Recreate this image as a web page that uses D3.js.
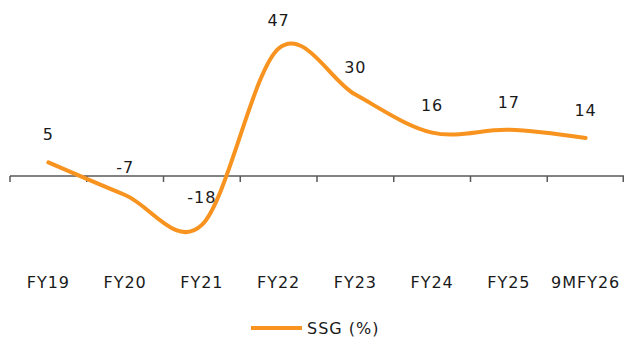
<!DOCTYPE html>
<html>
<head>
<meta charset="utf-8">
<script src="https://cdn.jsdelivr.net/npm/d3@7"></script>
<style>
  body { margin: 0; background: #fff; }
  text { font-family: "DejaVu Sans", Verdana, sans-serif; fill: #1a1a1a; letter-spacing: 1px; }
</style>
</head>
<body>
<div id="chart"></div>
<script>
// data
const categories = ["FY19", "FY20", "FY21", "FY22", "FY23", "FY24", "FY25", "9MFY26"]
const ssg = [5, -7, -18, 47, 30, 16, 17, 14]
const seriesName = "SSG (%)"

const dims = {
    width: 624,
    height: 342,
    left: 10,
    right: 624,
}

const xScale = d3.scaleBand()
    .domain(categories)
    .range([dims.left, dims.right])

const yScale = d3.scaleLinear()
    .domain([-20, 50])
    .range([230.3, 40.3])

const xCenter = d => xScale(d) + xScale.bandwidth() / 2

const svg = d3.select("#chart")
    .append("svg")
    .attr("width", dims.width)
    .attr("height", dims.height)

// axis line + ticks
const axis = svg.append("g")
axis.append("line")
    .attr("x1", dims.left).attr("x2", dims.right)
    .attr("y1", yScale(0)).attr("y2", yScale(0))
    .attr("stroke", "#595959").attr("stroke-width", 1.5)

const tickXs = categories.map(c => xScale(c)).concat([dims.right - 0.75])
axis.selectAll(".tick")
    .data(tickXs)
    .join("line")
    .attr("class", "tick")
    .attr("x1", d => d).attr("x2", d => d)
    .attr("y1", yScale(0)).attr("y2", yScale(0) + 6)
    .attr("stroke", "#595959").attr("stroke-width", 1.5)

// category labels
svg.append("g").selectAll("text")
    .data(categories)
    .join("text")
    .attr("x", d => xCenter(d))
    .attr("y", 288)
    .attr("text-anchor", "middle")
    .attr("font-size", 16)
    .text(d => d)

// line
const line = d3.line()
    .x((d, i) => xCenter(categories[i]))
    .y(d => yScale(d))
    .curve(d3.curveCardinal.tension(0))

svg.append("path")
    .datum(ssg)
    .attr("d", line)
    .attr("fill", "none")
    .attr("stroke", "#F7931E")
    .attr("stroke-width", 4)
    .attr("stroke-linecap", "round")

// value labels
svg.append("g").selectAll("text")
    .data(ssg)
    .join("text")
    .attr("x", (d, i) => xCenter(categories[i]))
    .attr("y", d => yScale(d) - 22)
    .attr("text-anchor", "middle")
    .attr("font-size", 16)
    .text(d => d)

// legend
const legend = svg.append("g")
legend.append("line")
    .attr("x1", 251).attr("x2", 302)
    .attr("y1", 328).attr("y2", 328)
    .attr("stroke", "#F7931E").attr("stroke-width", 4)
legend.append("text")
    .attr("x", 307).attr("y", 334)
    .attr("font-size", 16)
    .text(seriesName)
</script>
</body>
</html>
